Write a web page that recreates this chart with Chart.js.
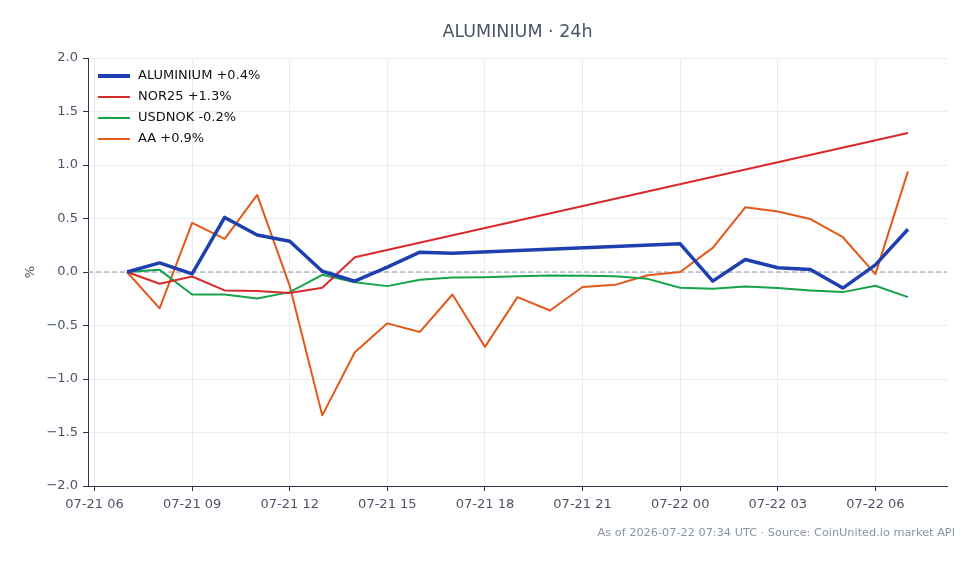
<!DOCTYPE html>
<html>
<head>
<meta charset="utf-8">
<script src="https://cdn.jsdelivr.net/npm/chart.js@4.4.1/dist/chart.umd.min.js"></script>
<style>
  html, body { margin: 0; padding: 0; background: #fff; }
  #wrap { width: 979px; height: 564px; position: relative; }
</style>
</head>
<body>
<div id="wrap"><canvas id="c"></canvas></div>
<script>
// ─── Data (hours counted from 07-21 00:00 UTC) ──────────────────────────────
const HOURS = [7, 8, 9, 10, 11, 12, 13, 14, 15, 16, 17, 18, 19, 20, 21, 22, 23,
               24, 25, 26, 27, 28, 29, 30, 31];
const TICK_HOURS  = [6, 9, 12, 15, 18, 21, 24, 27, 30];
const TICK_LABELS = ["07-21 06", "07-21 09", "07-21 12", "07-21 15", "07-21 18",
                     "07-21 21", "07-22 00", "07-22 03", "07-22 06"];
const Y_TICKS = [-2, -1.5, -1, -0.5, 0, 0.5, 1, 1.5, 2];

const ALUMINIUM = [0, 0.085, -0.017, 0.51, 0.345, 0.287, 0.007, -0.086, 0.045, 0.185, 0.175,
                   null, null, null, null, null, null,
                   0.263, -0.085, 0.117, 0.04, 0.023, -0.15, 0.067, 0.40];
const NOR25     = [0, -0.11, -0.042, -0.172, -0.178, -0.197, -0.148, 0.138,
                   null, null, null, null, null, null, null, null, null,
                   null, null, null, null, null, null, null, 1.30];
const USDNOK    = [0, 0.02, -0.21, -0.21, -0.247, -0.188, -0.026, -0.095, -0.132, -0.073, -0.051,
                   -0.048, -0.04, -0.033, -0.035, -0.04, -0.064,
                   -0.148, -0.157, -0.135, -0.15, -0.172, -0.188, -0.129, -0.235];
const AA        = [0, -0.34, 0.46, 0.31, 0.72, -0.13, -1.34, -0.75, -0.48, -0.56, -0.21,
                   -0.70, -0.235, -0.36, -0.14, -0.12, -0.03,
                   0.0, 0.225, 0.605, 0.565, 0.495, 0.325, -0.02, 0.94];

const SERIES = [
    { label: "ALUMINIUM +0.4%", data: ALUMINIUM, color: "#1e40af", width: 3.5 },
    { label: "NOR25 +1.3%",     data: NOR25,     color: "#d92a2a", width: 2 },
    { label: "USDNOK -0.2%",    data: USDNOK,    color: "#16a34a", width: 2 },
    { label: "AA +0.9%",        data: AA,        color: "#e3591a", width: 2 },
];

const FONT = "'DejaVu Sans', sans-serif";
const TEXT = "#4a5568";

// ─── Extras: title, footer, zero line, in-plot legend ───────────────────────
const extras = {
    id: "extras",
    beforeDatasetsDraw(chart) {
        const { ctx, chartArea, scales } = chart;
        const y0 = scales.y.getPixelForValue(0);
        ctx.save();
        ctx.strokeStyle = "#8c96b0";
        ctx.lineWidth = 1;
        ctx.setLineDash([5, 3]);
        ctx.beginPath();
        ctx.moveTo(chartArea.left, y0);
        ctx.lineTo(chartArea.right, y0);
        ctx.stroke();
        ctx.restore();
    },
    afterDraw(chart) {
        const { ctx, chartArea } = chart;
        ctx.save();
        ctx.fillStyle = TEXT;
        ctx.font = `17.5px ${FONT}`;
        ctx.textAlign = "center";
        ctx.textBaseline = "middle";
        ctx.fillText("ALUMINIUM · 24h", (chartArea.left + chartArea.right) / 2, 32);

        ctx.fillStyle = "#8a94a3";
        ctx.font = `11.3px ${FONT}`;
        ctx.textAlign = "right";
        ctx.fillText("As of 2026-07-22 07:34 UTC · Source: CoinUnited.io market API", 955, 533);

        // legend
        ctx.font = `13px ${FONT}`;
        ctx.textAlign = "left";
        SERIES.forEach((s, i) => {
            const y = 76 + i * 21;
            ctx.strokeStyle = s.color;
            ctx.lineWidth = s.width === 2 ? 2 : 4;
            ctx.beginPath();
            ctx.moveTo(98, y);
            ctx.lineTo(130, y);
            ctx.stroke();
            ctx.fillStyle = "#111";
            ctx.fillText(s.label, 138, y);
        });
        ctx.restore();
    },
};

new Chart(document.getElementById("c"), {
    type: "line",
    data: {
        datasets: SERIES.map(s => ({
            label: s.label,
            data: HOURS.map((h, i) => ({ x: h, y: s.data[i] })),
            borderColor: s.color,
            backgroundColor: s.color,
            borderWidth: s.width,
            pointRadius: 0,
            tension: 0,
            spanGaps: true,
            borderJoinStyle: "round",
        })),
    },
    options: {
        responsive: true,
        maintainAspectRatio: false,
        animation: false,
        layout: { padding: { top: 58, right: 32, left: 0, bottom: 0 } },
        plugins: {
            legend: { display: false },
            title: { display: false },
            tooltip: { enabled: false },
        },
        scales: {
            x: {
                type: "linear",
                min: 5.8,
                max: 32.2,
                afterBuildTicks: sc => { sc.ticks = TICK_HOURS.map(v => ({ value: v })); },
                afterFit: sc => { sc.height = 78; },
                ticks: {
                    color: TEXT,
                    font: { family: FONT, size: 13 },
                    padding: 6,
                    maxRotation: 0,
                    autoSkip: false,
                    callback: v => TICK_LABELS[TICK_HOURS.indexOf(v)],
                },
                grid: { color: "#e9ecf1", tickColor: "#2d3748", tickLength: 5 },
                border: { color: "#2d3748", width: 1 },
            },
            y: {
                min: -2,
                max: 2,
                afterBuildTicks: sc => { sc.ticks = Y_TICKS.map(v => ({ value: v })); },
                afterFit: sc => { sc.width = 88; },
                ticks: {
                    color: TEXT,
                    font: { family: FONT, size: 13 },
                    padding: 5,
                    callback: v => (v < 0 ? "\u2212" : "") + Math.abs(v).toFixed(1),
                },
                grid: { color: "#e9ecf1", tickColor: "#2d3748", tickLength: 5 },
                border: { color: "#2d3748", width: 1 },
                title: {
                    display: true,
                    text: "%",
                    color: TEXT,
                    font: { family: FONT, size: 13 },
                    padding: { top: 23, bottom: 0 },
                },
            },
        },
    },
    plugins: [extras],
});
</script>
</body>
</html>
